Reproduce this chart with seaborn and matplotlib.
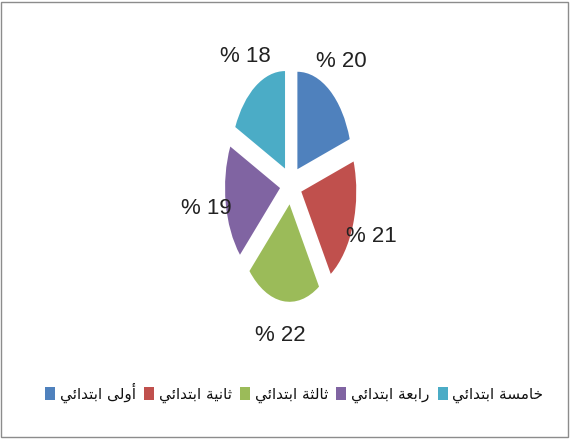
import matplotlib
matplotlib.use("Agg")
import matplotlib.pyplot as plt
import seaborn as sns
from matplotlib.patches import Rectangle

grades = ["أولى ابتدائي", "ثانية ابتدائي", "ثالثة ابتدائي", "رابعة ابتدائي", "خامسة ابتدائي"]
shares = [20, 21, 22, 19, 18]
colors = ["#4F81BD", "#C0504D", "#9BBB59", "#8064A2", "#4BACC6"]

# arabic presentation forms: isolated, final, initial, medial
FORMS = {
    "ا": ("\uFE8D", "\uFE8E", None, None),
    "أ": ("\uFE83", "\uFE84", None, None),
    "ب": ("\uFE8F", "\uFE90", "\uFE91", "\uFE92"),
    "ت": ("\uFE95", "\uFE96", "\uFE97", "\uFE98"),
    "ث": ("\uFE99", "\uFE9A", "\uFE9B", "\uFE9C"),
    "خ": ("\uFEA5", "\uFEA6", "\uFEA7", "\uFEA8"),
    "د": ("\uFEA9", "\uFEAA", None, None),
    "ر": ("\uFEAD", "\uFEAE", None, None),
    "س": ("\uFEB1", "\uFEB2", "\uFEB3", "\uFEB4"),
    "ع": ("\uFEC9", "\uFECA", "\uFECB", "\uFECC"),
    "ل": ("\uFEDD", "\uFEDE", "\uFEDF", "\uFEE0"),
    "م": ("\uFEE1", "\uFEE2", "\uFEE3", "\uFEE4"),
    "ن": ("\uFEE5", "\uFEE6", "\uFEE7", "\uFEE8"),
    "ة": ("\uFE93", "\uFE94", None, None),
    "و": ("\uFEED", "\uFEEE", None, None),
    "ى": ("\uFEEF", "\uFEF0", None, None),
    "ي": ("\uFEF1", "\uFEF2", "\uFEF3", "\uFEF4"),
    "ئ": ("\uFE89", "\uFE8A", "\uFE8B", "\uFE8C"),
}


def shape(text):
    out = []
    for i, ch in enumerate(text):
        if ch not in FORMS:
            out.append(ch)
            continue
        prev = text[i - 1] if i > 0 else ""
        nxt = text[i + 1] if i < len(text) - 1 else ""
        join_prev = prev in FORMS and FORMS[prev][2] is not None
        join_next = nxt in FORMS and FORMS[ch][2] is not None
        iso, fin, ini, med = FORMS[ch]
        if join_prev and join_next:
            out.append(med)
        elif join_prev:
            out.append(fin)
        elif join_next:
            out.append(ini)
        else:
            out.append(iso)
    return "".join(out)[::-1]


sns.set_theme(style="white")
palette = sns.color_palette(colors)

fig = plt.figure(figsize=(5.71, 4.41), dpi=100)
fig.patches.append(Rectangle((0.002, 0.008), 0.993, 0.988, transform=fig.transFigure,
                             fill=False, edgecolor="#8c8c8c", linewidth=1))

ax = fig.add_axes([0.365, 0.249, 0.289, 0.663])
wedges, texts, autotexts = ax.pie(
    shares, colors=palette, startangle=90, counterclock=False,
    explode=[0.2] * len(shares), radius=1,
    autopct=lambda p: f"% {p:.0f}", pctdistance=1.36,
    textprops=dict(fontsize=16, family=["Liberation Sans Narrow", "Liberation Sans"],
                   color="#222222"),
    wedgeprops=dict(linewidth=0),
)
ax.set_aspect("auto")
ax.set_xlim(-1.5, 1.5)
ax.set_ylim(-1.5, 1.5)

labels = [shape(g) for g in grades]
fig.legend(wedges, labels, loc="center", bbox_to_anchor=(0.515, 0.11), ncol=5,
           frameon=False, markerfirst=True, handlelength=0.65, handleheight=0.95,
           handletextpad=0.3, columnspacing=0.55,
           prop=dict(family="DejaVu Sans", size=11))
for t in fig.legends[0].get_texts():
    t.set_color("#111111")

fig.savefig("out.png", dpi=100)
